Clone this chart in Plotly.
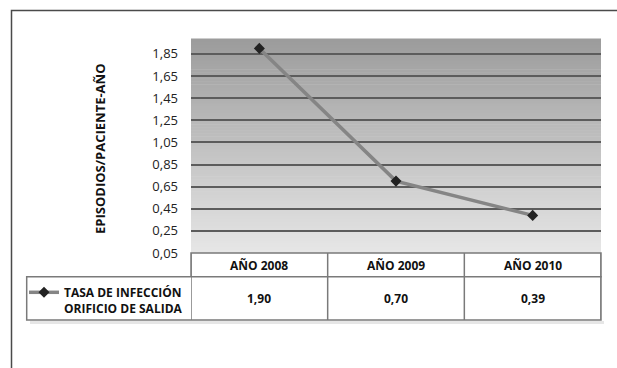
import plotly.graph_objects as go

# ---- data ----
categories = ["AÑO 2008", "AÑO 2009", "AÑO 2010"]
tasa_infeccion = [1.90, 0.70, 0.39]
series_name = "TASA DE INFECCIÓN<br>ORIFICIO DE SALIDA"
y_tickvals = [0.05, 0.25, 0.45, 0.65, 0.85, 1.05, 1.25, 1.45, 1.65, 1.85]
y_title = "EPISODIOS/PACIENTE-AÑO"

W, H = 617, 368
L, R, T, B = 191, 16, 39, 115
PW, PH = W - L - R, H - T - B
FONT = "Open Sans, Noto Sans, sans-serif"


def px_x(p):
    return (p - L) / PW


def px_y(p):
    return (H - B - p) / PH


def fmt(v):
    return f"{v:.2f}".replace(".", ",")


fig = go.Figure()
fig.add_trace(go.Scatter(
    x=categories, y=tasa_infeccion, mode="lines+markers", name=series_name,
    line=dict(color="#858585", width=3.5),
    marker=dict(symbol="diamond", size=8.5, color="#222222"),
    showlegend=True,
))

shapes = []
# gradient background of plot area
n = 70
top_c, bot_c = (156, 156, 156), (230, 230, 230)
for i in range(n):
    t = i / (n - 1)
    c = tuple(int(round(bot_c[k] + (top_c[k] - bot_c[k]) * t)) for k in range(3))
    shapes.append(dict(type="rect", xref="x domain", yref="y domain",
                       x0=0, x1=1, y0=i / n, y1=(i + 1) / n + 0.002,
                       fillcolor=f"rgb{c}", line=dict(width=0), layer="below"))

tc = "#7a7a7a"
row1_top, row1_bot, row2_bot = 253, 276.7, 320
# shadow under table
shapes.append(dict(type="line", xref="paper", yref="paper",
                   x0=px_x(30), x1=px_x(604), y0=px_y(322.5), y1=px_y(322.5),
                   line=dict(color="#e6e6e6", width=3)))
# header row
shapes.append(dict(type="rect", xref="paper", yref="paper",
                   x0=0, x1=1, y0=px_y(row1_bot), y1=px_y(row1_top),
                   fillcolor="white", line=dict(color=tc, width=1.5)))
# data row
shapes.append(dict(type="rect", xref="paper", yref="paper",
                   x0=px_x(26.7), x1=1, y0=px_y(row2_bot), y1=px_y(row1_bot),
                   fillcolor="white", line=dict(color=tc, width=1.5)))
# column separators
for i in range(len(categories) + 1):
    shapes.append(dict(type="line", xref="x", yref="paper",
                       x0=i - 0.5, x1=i - 0.5, y0=px_y(row2_bot), y1=px_y(row1_top),
                       line=dict(color=tc, width=1.5)))
# outer frame
shapes.append(dict(type="rect", xref="paper", yref="paper",
                   x0=px_x(11.5), x1=px_x(640), y0=px_y(400), y1=px_y(10.5),
                   line=dict(color="#4a4a4a", width=1.5)))

annotations = []
for i, (c, v) in enumerate(zip(categories, tasa_infeccion)):
    annotations.append(dict(x=c, xref="x", y=px_y(265.5), yref="paper",
                            xanchor="center", yanchor="middle",
                            text=f"<b>{c}</b>", showarrow=False,
                            font=dict(family=FONT, size=12, color="#111")))
    annotations.append(dict(x=c, xref="x", y=px_y(298.5), yref="paper",
                            xanchor="center", yanchor="middle",
                            text=f"<b>{fmt(v)}</b>", showarrow=False,
                            font=dict(family=FONT, size=12, color="#111")))
annotations.append(dict(x=px_x(100), xref="paper", y=px_y(149), yref="paper",
                        xanchor="center", yanchor="middle",
                        text=f"<b>{y_title}</b>", textangle=-90, showarrow=False,
                        font=dict(family=FONT, size=13, color="#111")))

fig.update_layout(
    width=W, height=H,
    margin=dict(l=L, r=R, t=T, b=B),
    paper_bgcolor="white", plot_bgcolor="rgb(230,230,230)",
    separators=",.",
    font=dict(family=FONT, size=13, color="#222"),
    shapes=shapes, annotations=annotations,
    showlegend=True,
    legend=dict(x=px_x(24), y=px_y(278), xanchor="left", yanchor="top",
                bgcolor="rgba(0,0,0,0)", borderwidth=0, valign="top",
                itemwidth=30, tracegroupgap=0,
                font=dict(family=FONT, size=12, color="#111", weight="bold")),
    xaxis=dict(type="category", categoryorder="array", categoryarray=categories,
               range=[-0.5, len(categories) - 0.5], showticklabels=False,
               showgrid=False, zeroline=False, showline=False, ticks=""),
    yaxis=dict(range=[0.05, 1.985], tickvals=y_tickvals, tickformat=".2f",
               showgrid=True, gridcolor="#5c5c5c", gridwidth=1.5,
               zeroline=False, showline=False, ticks="", ticklabelstandoff=12,
               tickfont=dict(family=FONT, size=13, color="#222")),
)

fig.write_html("out.html", config={"displayModeBar": False},
               post_script="document.body.style.margin='0';")
